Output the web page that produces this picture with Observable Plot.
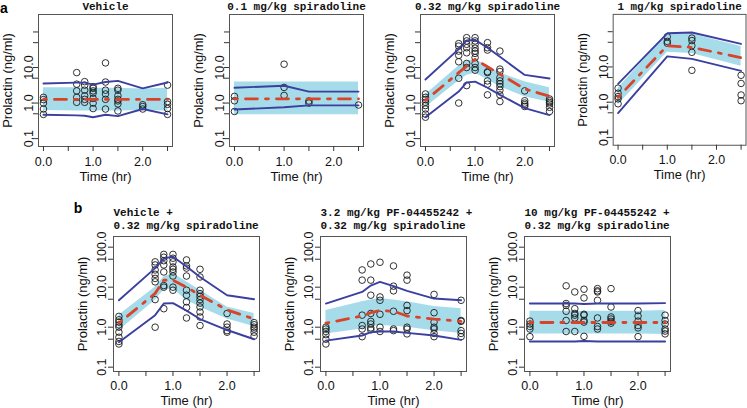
<!DOCTYPE html>
<html><head><meta charset="utf-8">
<script src="https://cdn.jsdelivr.net/npm/d3@7"></script>
<script src="https://cdn.jsdelivr.net/npm/@observablehq/plot@0.6"></script>
<style>
html,body{margin:0;padding:0;background:#fff}
body{width:747px;height:408px;overflow:hidden;position:relative;font-family:"Liberation Sans",Arial,sans-serif}
.panel{position:absolute}
</style></head><body>
<script>
// ---------- data ----------
const times8 = [0, 0.67, 0.83, 1.0, 1.25, 1.5, 2.0, 2.5];
const times4 = [0, 1.0, 1.5, 2.5];

const xTicks = [0, 0.5, 1, 1.5, 2, 2.5];
const xTickLabels = ["0.0", "", "1.0", "", "2.0", ""];
const yTicks = [0.1, 0.5, 1, 5, 10, 50, 100];
const yTickLabelsTop = ["0.1", "", "1.0", "", "10.0", "", ""];
const yTickLabelsBottom = ["0.1", "", "1.0", "", "10.0", "", "100.0"];

const xTitle = "Time (hr)";
const yTitle = "Prolactin (ng/ml)";
const rowTags = ["a", "b"];

const titles = [
  ["Vehicle"],
  ["0.1 mg/kg spiradoline"],
  ["0.32 mg/kg spiradoline"],
  ["1 mg/kg spiradoline"],
  ["Vehicle +", "0.32 mg/kg spiradoline"],
  ["3.2 mg/kg PF-04455242 +", "0.32 mg/kg spiradoline"],
  ["10 mg/kg PF-04455242 +", "0.32 mg/kg spiradoline"]
];

// Panel 1: Vehicle
const p1Obs = [
  [0, [1.45, 1.25, 1.0, 0.68, 0.48]],
  [0.67, [7.2, 3.4, 2.2, 1.45, 1.05]],
  [0.83, [4.0, 3.2, 2.3, 1.6, 1.27, 1.05]],
  [1.0, [2.9, 2.6, 2.2, 1.9, 1.35, 1.0, 0.7]],
  [1.25, [13.5, 3.9, 2.3, 1.8, 1.27, 0.68]],
  [1.5, [2.6, 2.3, 1.6, 1.27, 1.15, 0.95, 0.6]],
  [2.0, [0.9, 0.8, 0.68]],
  [2.5, [3.2, 1.1, 0.92, 0.7, 0.48]]
];
const p1Median = [1.27, 1.27, 1.27, 1.27, 1.27, 1.27, 1.27, 1.27];
const p1P05 = [0.47, 0.45, 0.44, 0.40, 0.47, 0.43, 0.68, 0.48];
const p1P95 = [3.55, 3.75, 3.75, 3.3, 3.9, 4.2, 2.6, 3.8];
const p1BandLo = [0.62, 0.6, 0.6, 0.6, 0.6, 0.6, 0.62, 0.6];
const p1BandHi = [2.7, 2.7, 2.6, 2.6, 2.6, 2.6, 2.5, 2.6];

// Panel 2: 0.1 mg/kg spiradoline
const p2Obs = [
  [0, [1.54, 1.16, 0.58]],
  [1.0, [12.4, 2.75, 1.64]],
  [1.5, [1.14, 1.0]],
  [2.5, [0.88]]
];
const p2Median = [1.32, 1.32, 1.32, 1.32];
const p2P05 = [0.66, 0.76, 0.86, 0.86];
const p2P95 = [2.7, 3.06, 2.1, 2.1];
const p2BandLo = [0.47, 0.47, 0.47, 0.47];
const p2BandHi = [3.9, 3.9, 3.9, 3.9];

// Panel 3: 0.32 mg/kg spiradoline
const p3Obs = [
  [0, [1.8, 1.45, 1.25, 1.05, 0.85, 0.68, 0.49, 0.40]],
  [0.67, [47, 40, 29, 22, 14.5, 5, 1.0]],
  [0.83, [69, 56, 45, 36, 26, 13, 10, 3.1]],
  [1.0, [69, 56, 45, 35, 29, 25, 19, 13, 10, 8.4]],
  [1.25, [50, 36, 31, 7.6, 7.2, 4.2, 3.4, 1.7]],
  [1.5, [29, 9, 7.7, 5.2, 4.2, 3.5, 2.9, 2.3, 1.7, 1.1]],
  [2.0, [2.2, 1.16, 1.0, 0.9, 0.8]],
  [2.5, [1.3, 1.16, 1.04, 0.94, 0.76, 0.58]]
];
const p3Median = [1.18, 7.2, 11, 17, 10.5, 6.5, 2.5, 1.55];
const p3P05 = [0.40, 2.1, 3.8, 4.0, 2.7, 1.7, 0.72, 0.46];
const p3P95 = [4.6, 33, 58, 60, 36, 20, 6.2, 4.9];
const p3BandLo = [0.75, 4.2, 6, 7, 4.5, 2.9, 1.5, 1.05];
const p3BandHi = [1.7, 11, 15, 17, 11, 7, 4, 2.7];

// Panel 4: 1 mg/kg spiradoline
const p4Obs = [
  [0, [2.5, 1.8, 1.44, 1.24, 0.9]],
  [1.0, [72, 53, 47]],
  [1.5, [66, 56, 40, 26, 8]],
  [2.5, [5.8, 3.4, 1.6, 1.1]]
];
const p4Median = [1.38, 40, 36, 18.3];
const p4P05 = [0.49, 20, 17, 7.7];
const p4P95 = [3.3, 90, 95, 45];
const p4BandLo = [0.85, 26, 24, 10.5];
const p4BandHi = [2.5, 86, 86, 38];

// Panel 5: Vehicle + 0.32 mg/kg spiradoline
const p5Obs = [
  [0, [1.86, 1.53, 1.34, 1.14, 1.0, 0.75, 0.56, 0.44, 0.38]],
  [0.67, [43, 36, 27, 21, 16.6, 13.6, 4.9, 1.0]],
  [0.83, [66, 56, 46, 36, 24, 11, 10, 2.9]],
  [1.0, [66, 53, 43, 32, 28, 24, 19, 10, 8.4]],
  [1.25, [48, 34, 30, 19, 8.4, 6.3, 4.3, 3.1, 1.7]],
  [1.5, [28, 18, 8.4, 6.9, 5.9, 4.9, 4.0, 3.2, 2.4, 1.8, 1.1]],
  [2.0, [2.2, 1.2, 1.0, 0.82, 0.75]],
  [2.5, [1.3, 1.15, 1.0, 0.9, 0.75, 0.6]]
];
const p5Median = [1.26, 7, 15, 15, 10, 6.3, 2.7, 1.6];
const p5P05 = [0.42, 2.0, 3.9, 4.0, 2.6, 1.6, 0.85, 0.5];
const p5P95 = [4.7, 30, 52, 58, 33, 18, 6.3, 5.0];
const p5BandLo = [0.82, 4.7, 8.4, 9.2, 4.7, 3.2, 1.6, 1.04];
const p5BandHi = [2.0, 10, 18, 22, 13.6, 8.4, 3.2, 2.2];

// Panel 6: 3.2 mg/kg PF-04455242 + 0.32 mg/kg spiradoline
const p6Obs = [
  [0, [1.0, 0.9, 0.78, 0.65, 0.5, 0.38]],
  [0.67, [27, 15, 2.0, 1.1, 0.9, 0.58]],
  [0.83, [38, 15, 6.3, 2.2, 1.4, 1.2, 0.96, 0.86]],
  [1.0, [42, 5.7, 4.7, 2.1, 1.0, 0.78]],
  [1.25, [34, 10.6, 8.1, 2.5, 0.9, 0.82]],
  [1.5, [20, 15, 3.5, 2.6, 1.0, 0.9, 0.68]],
  [2.0, [6.6, 2.3, 1.34, 1.0, 0.9, 0.7, 0.58]],
  [2.5, [4.7, 1.47, 1.4, 0.82, 0.7, 0.58]]
];
const p6Median = [1.26, 1.9, 2.3, 2.6, 2.5, 1.9, 1.6, 1.4];
const p6P05 = [0.46, 0.62, 0.75, 0.78, 0.78, 0.72, 0.62, 0.48];
const p6P95 = [3.9, 7.6, 11, 13.6, 10.6, 8.1, 5.2, 4.7];
const p6BandLo = [0.68, 0.9, 1.0, 1.1, 1.05, 1.0, 0.82, 0.7];
const p6BandHi = [2.6, 4.3, 4.8, 5.2, 4.8, 4.3, 3.3, 2.9];

// Panel 7: 10 mg/kg PF-04455242 + 0.32 mg/kg spiradoline
const p7Obs = [
  [0, [1.42, 1.2, 1.04, 0.9, 0.58]],
  [0.67, [10.8, 3.9, 3.5, 2.5, 1.47, 0.78]],
  [0.83, [7.6, 2.9, 2.2, 2.0, 1.7, 0.78]],
  [1.0, [8.9, 5.4, 2.1, 2.0, 1.47, 1.34, 0.59]],
  [1.25, [9.2, 8.1, 7.6, 4.7, 1.7, 1.04, 0.9]],
  [1.5, [9.2, 3.2, 1.8, 1.6, 1.4, 1.26]],
  [2.0, [2.6, 1.9, 1.42, 1.1, 0.96, 0.58]],
  [2.5, [2.0, 1.47, 1.2, 0.9, 0.8, 0.68]]
];
const p7Median = [1.31, 1.31, 1.31, 1.31, 1.31, 1.31, 1.31, 1.31];
const p7P05 = [0.44, 0.44, 0.44, 0.45, 0.44, 0.44, 0.44, 0.44];
const p7P95 = [3.9, 3.9, 3.9, 3.8, 3.9, 3.9, 3.9, 4.0];
const p7BandLo = [0.68, 0.68, 0.68, 0.68, 0.68, 0.68, 0.68, 0.66];
const p7BandHi = [2.5, 2.5, 2.5, 2.5, 2.5, 2.5, 2.5, 2.6];

// ---------- styles ----------
const bandColor = "#a6dcea";
const pctColor = "#3b3f9f";
const medColor = "#d9432a";
const sansFont = "'Liberation Sans', Arial, Helvetica, sans-serif";
const monoFont = "'Liberation Mono', 'Courier New', monospace";

function makePanel(o) {
  const band = o.times.map((t, i) => ({t, lo: o.bLo[i], hi: o.bHi[i]}));
  const mk = arr => o.times.map((t, i) => ({t, v: arr[i]}));
  const pts = o.obs.flatMap(([t, vs]) => vs.map(v => ({t, v})));
  const titleMarks = o.titleLines.length === 1
    ? [Plot.text(o.titleLines, {frameAnchor: "top", textAnchor: "middle", lineAnchor: "middle", dy: o.titleDy[0], fontFamily: monoFont, fontWeight: "bold", fontSize: 11, fill: "#111"})]
    : o.titleLines.map((s, i) => Plot.text([s], {frameAnchor: "top-left", textAnchor: "start", lineAnchor: "middle", dy: o.titleDy[i], fontFamily: monoFont, fontWeight: "bold", fontSize: 11, fill: "#111"}));
  const extra = o.tag ? [Plot.text([o.tag], {frameAnchor: "top-left", textAnchor: "middle", lineAnchor: "middle", dx: o.tagDx, dy: o.tagDy, fontFamily: sansFont, fontWeight: "bold", fontSize: 14, fill: "#000"})] : [];
  const chart = Plot.plot({
    width: o.marginLeft + o.fw + o.marginRight,
    height: o.height,
    marginLeft: o.marginLeft,
    marginRight: o.marginRight,
    marginTop: o.marginTop,
    marginBottom: o.height - o.marginTop - o.fh,
    style: {background: "transparent", fontFamily: sansFont, fontSize: "12.5px", color: "#111", overflow: "visible"},
    x: {type: "linear", domain: [-0.1, 2.6]},
    y: {type: "log", domain: o.yDomain},
    marks: [
      Plot.areaY(band, {x: "t", y1: "lo", y2: "hi", fill: bandColor}),
      Plot.dot(pts, {x: "t", y: "v", r: 3.3, stroke: "#1b1b1b", strokeWidth: 0.9, fill: "none"}),
      Plot.line(mk(o.p95), {x: "t", y: "v", stroke: pctColor, strokeWidth: 1.9}),
      Plot.line(mk(o.p05), {x: "t", y: "v", stroke: pctColor, strokeWidth: 1.9}),
      Plot.line(mk(o.med), {x: "t", y: "v", stroke: medColor, strokeWidth: 2.8, strokeDasharray: "3,8,12,8"}),
      Plot.frame({stroke: "#555", strokeWidth: 1}),
      Plot.axisX({ticks: xTicks, tickFormat: d => xTickLabels[xTicks.indexOf(d)], tickSize: 5, tickPadding: o.xPad, fontSize: 12.5, label: null, stroke: "#333"}),
      Plot.axisY({ticks: yTicks, tickFormat: d => o.yLabels[yTicks.indexOf(d)], tickSize: 5, tickRotate: -90, lineAnchor: "middle", tickPadding: o.yPad, fontSize: 12.5, label: null, stroke: "#333"}),
      Plot.text([xTitle], {frameAnchor: "bottom", textAnchor: "middle", lineAnchor: "middle", dy: o.xTitleDy, fontSize: 13, fill: "#111"}),
      Plot.text([yTitle], {frameAnchor: "left", textAnchor: "middle", lineAnchor: "middle", dx: -31, rotate: -90, fontSize: 13, fill: "#111"}),
      ...titleMarks,
      ...extra
    ]
  });
  const div = document.createElement("div");
  div.className = "panel";
  div.style.left = (o.left - o.marginLeft) + "px";
  div.style.top = o.svgTop + "px";
  div.appendChild(chart);
  document.body.appendChild(div);
}

const topCommon = {svgTop: 0, marginTop: 14, fh: 132, height: 200, fw: 134, marginLeft: 40, marginRight: 2,
  yDomain: [0.06, 310], yLabels: yTickLabelsTop, xPad: 5.5, yPad: 4.5, xTitleDy: 30, titleDy: [-8]};
const botCommon = {svgTop: 200, marginTop: 36, fh: 135, height: 208, fw: 146, marginLeft: 50, marginRight: 2,
  yDomain: [0.078, 185], yLabels: yTickLabelsBottom, xPad: 4.5, yPad: 7, xTitleDy: 29, titleDy: [-24.3, -11]};

makePanel({...topCommon, left: 38.4, times: times8, obs: p1Obs, med: p1Median, p05: p1P05, p95: p1P95, bLo: p1BandLo, bHi: p1BandHi, titleLines: titles[0], tag: rowTags[0], tagDx: -34.5, tagDy: -5.5});
makePanel({...topCommon, left: 228.7, times: times4, obs: p2Obs, med: p2Median, p05: p2P05, p95: p2P95, bLo: p2BandLo, bHi: p2BandHi, titleLines: titles[1]});
makePanel({...topCommon, left: 420, times: times8, obs: p3Obs, med: p3Median, p05: p3P05, p95: p3P95, bLo: p3BandLo, bHi: p3BandHi, titleLines: titles[2]});
makePanel({...topCommon, left: 612.5, times: times4, obs: p4Obs, med: p4Median, p05: p4P05, p95: p4P95, bLo: p4BandLo, bHi: p4BandHi, titleLines: titles[3]});
makePanel({...botCommon, left: 113.4, times: times8, obs: p5Obs, med: p5Median, p05: p5P05, p95: p5P95, bLo: p5BandLo, bHi: p5BandHi, titleLines: titles[4], tag: rowTags[1], tagDx: -35.4, tagDy: -27.5});
makePanel({...botCommon, left: 319.6, times: times8, obs: p6Obs, med: p6Median, p05: p6P05, p95: p6P95, bLo: p6BandLo, bHi: p6BandHi, titleLines: titles[5]});
makePanel({...botCommon, left: 524, times: times8, obs: p7Obs, med: p7Median, p05: p7P05, p95: p7P95, bLo: p7BandLo, bHi: p7BandHi, titleLines: titles[6]});
</script>
</body></html>
